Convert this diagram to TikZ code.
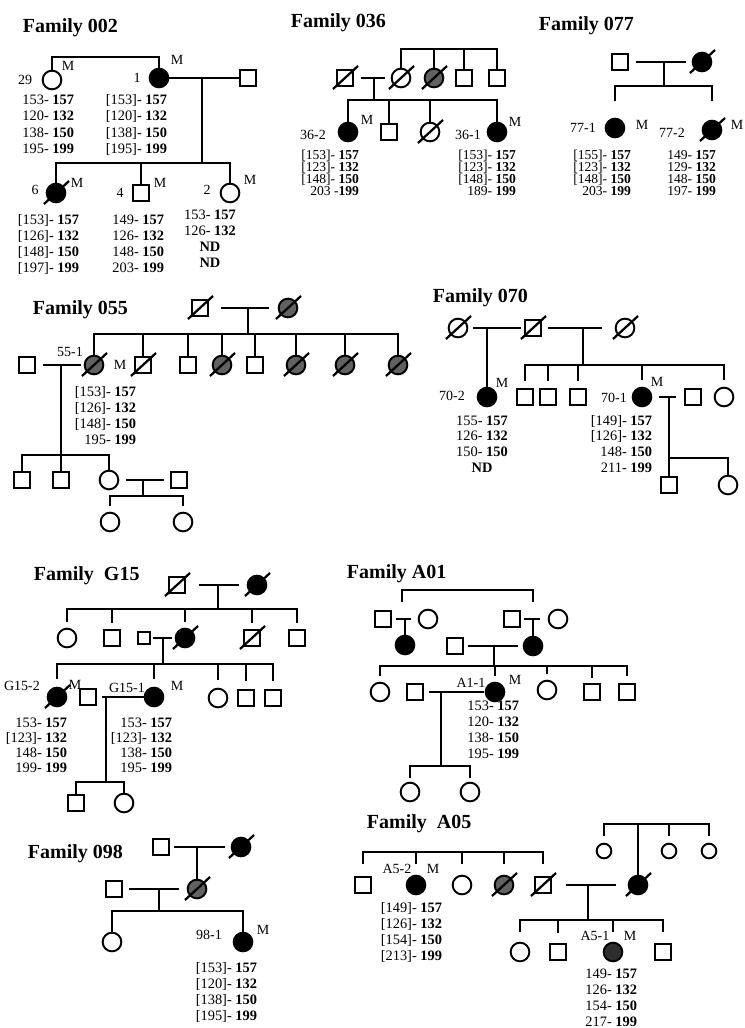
\documentclass[tikz,border=0pt]{standalone}
\usepackage{fontspec}
\setmainfont{Liberation Serif}
\newcommand\gtp[2]{#1- \textbf{#2}}
\newcommand\gblk[8]{%
\node[gt] (#1a) at (#2,#3) {#5};
\node[gt] (#1b) at (#2,{#3+#4}) {#6};
\node[gt] (#1c) at (#2,{#3+2*#4}) {#7};
\node[gt] (#1d) at (#2,{#3+3*#4}) {#8};}
\newcommand\gblks[8]{%
\node[gts] (#1a) at (#2,#3) {#5};
\node[gts] (#1b) at (#2,{#3+#4}) {#6};
\node[gts] (#1c) at (#2,{#3+2*#4}) {#7};
\node[gts] (#1d) at (#2,{#3+3*#4}) {#8};}
\newcommand\gblkc[8]{%
\node[gtc] (#1a) at (#2,#3) {#5};
\node[gtc] (#1b) at (#2,{#3+#4}) {#6};
\node[gtc] (#1c) at (#2,{#3+2*#4}) {#7};
\node[gtc] (#1d) at (#2,{#3+3*#4}) {#8};}
\newcommand\dslash[1]{\draw[line width=1.7pt] ([shift={(-12,11)}]#1.center) -- ([shift={(13,-12)}]#1.center);}
\tikzset{
 sq/.style={draw, rectangle, minimum size=12.3pt, inner sep=0pt},
 ssq/.style={sq, minimum size=9.5pt},
 ci/.style={draw, circle, minimum size=14pt, inner sep=0pt},
 sci/.style={ci, minimum size=11pt},
 af/.style={ci, fill=black},
 sh/.style={ci, fill=black!62},
 sh2/.style={ci, fill=black!82},
 ttl/.style={font=\fontsize{15}{17}\selectfont\bfseries, anchor=base west, inner sep=0pt},
 lab/.style={font=\fontsize{10.5}{12}\selectfont, inner sep=0pt},
 gt/.style={font=\fontsize{10.8}{12}\selectfont, inner sep=0pt, anchor=base east},
 gts/.style={gt, font=\fontsize{10.2}{12}\selectfont},
 gtc/.style={gt, anchor=base},
}
\begin{document}
\begin{tikzpicture}[x=0.75pt,y=-0.75pt,line width=1.45pt]
\useasboundingbox (0,0) rectangle (744,1028);
\fill[white] (0,0) rectangle (744,1028);

% ================= Family 002
\node[ttl] (t002) at (22,32) {Family 002};
\node[ci] (p29) at (52,80) {};
\node[af] (p1) at (159,78) {};
\node[sq] (p1sp) at (248,78) {};
\coordinate (s002) at (105,57);
\draw (p29.north) |- (s002) -| (p1.north);
\draw (p1) -- (p1sp);
\coordinate (m002) at (202,78);
\coordinate (j002) at (202,163);
\draw (m002) -- (j002);
\node[af] (c6) at (56,193) {}; \dslash{c6}
\node[sq] (c4) at (141,193) {};
\node[ci] (c2) at (230,193) {};
\draw (c6.north) |- (j002) -| (c2.north);
\draw (c4.north) -- (c4.north |- j002);
\node[lab] (l29) at (25,80) {29}; \node[lab] (lm29) at (68,66) {M};
\node[lab] (l1) at (137,78) {1}; \node[lab] (lm1) at (177,60) {M};
\node[lab] (l6) at (35,190) {6}; \node[lab] (lm6) at (77,183) {M};
\node[lab] (l4) at (120,193) {4}; \node[lab] (lm4) at (160,183) {M};
\node[lab] (l2) at (207,190) {2}; \node[lab] (lm2) at (250,180) {M};
\gblk{g29}{75}{104}{16.5}{\gtp{153}{157}}{\gtp{120}{132}}{\gtp{138}{150}}{\gtp{195}{199}}
\gblk{g1}{168}{104}{16.5}{\gtp{[153]}{157}}{\gtp{[120]}{132}}{\gtp{[138]}{150}}{\gtp{[195]}{199}}
\gblk{g6}{80}{224}{16}{\gtp{[153]}{157}}{\gtp{[126]}{132}}{\gtp{[148]}{150}}{\gtp{[197]}{199}}
\gblk{g4}{165}{224}{16}{\gtp{149}{157}}{\gtp{126}{132}}{\gtp{148}{150}}{\gtp{203}{199}}
\gblkc{g2}{210}{219}{16}{\gtp{153}{157}}{\gtp{126}{132}}{\textbf{ND}}{\textbf{ND}}

% ================= Family 036
\node[ttl] (t036) at (290,27) {Family 036};
\node[sq] (f1) at (345,78) {}; \dslash{f1}
\node[ci] (f2) at (401,78) {}; \dslash{f2}
\node[sh] (f3) at (434,78) {}; \dslash{f3}
\node[sq] (f4) at (464,78) {};
\node[sq] (f5) at (497,78) {};
\draw[shorten <=5pt, shorten >=4pt] (f1) -- (f2);
\coordinate (s036) at (448,49);
\draw (f2.north) |- (s036) -| (f5.north);
\draw (f3.north) -- (f3.north |- s036);
\draw (f4.north) -- (f4.north |- s036);
\coordinate (m036) at (374,78);
\coordinate (j036) at (374,100);
\draw (m036) -- (j036);
\node[af] (k1) at (348,132) {};
\node[sq] (k2) at (389,132) {};
\node[ci] (k3) at (430,132) {}; \dslash{k3}
\node[af] (k4) at (497,132) {};
\draw (k1.north) |- (j036) -| (k4.north);
\draw (k2.north) -- (k2.north |- j036);
\draw (k3.north) -- (k3.north |- j036);
\node[lab] (l362) at (313,135) {36-2}; \node[lab] (lm362) at (367,120) {M};
\node[lab] (l361) at (468,135) {36-1}; \node[lab] (lm361) at (515,122) {M};
\gblks{g362}{360}{159}{12.2}{\gtp{[153]}{157}}{\gtp{[123]}{132}}{\gtp{[148]}{150}}{203 -\textbf{199}}
\gblks{g361}{517}{159}{12.2}{\gtp{[153]}{157}}{\gtp{[123]}{132}}{\gtp{[148]}{150}}{\gtp{189}{199}}

% ================= Family 077
\node[ttl] (t077) at (538,30) {Family 077};
\node[sq] (g1) at (620,62) {};
\node[af] (g2) at (702,62) {}; \dslash{g2}
\draw[shorten <=5pt, shorten >=4.5pt] (g1) -- (g2);
\coordinate (m077) at (664,62);
\coordinate (j077) at (664,86);
\draw (m077) -- (j077);
\node[af] (h1) at (615,128) {};
\node[af] (h2) at (712,130) {}; \dslash{h2}
\draw ([yshift=12.6pt]h1.north) |- (j077) -| ([yshift=14pt]h2.north);
\node[lab] (l771) at (583,128) {77-1}; \node[lab] (lm771) at (642,125) {M};
\node[lab] (l772) at (672,133) {77-2}; \node[lab] (lm772) at (737,125) {M};
\gblks{g771}{632}{159}{12.2}{\gtp{[155]}{157}}{\gtp{[123]}{132}}{\gtp{[148]}{150}}{\gtp{203}{199}}
\gblks{g772}{717}{159}{12.2}{\gtp{149}{157}}{\gtp{129}{132}}{\gtp{148}{150}}{\gtp{197}{199}}

% ================= Family 055
\node[ttl] (t055) at (32,314) {Family 055};
\node[sq] (a1) at (200,308) {}; \dslash{a1}
\node[sh] (a2) at (288,308) {}; \dslash{a2}
\draw[shorten <=8.9pt, shorten >=6.5pt] (a1) -- (a2);
\coordinate (m055) at (248,308);
\coordinate (j055) at (248,334);
\draw (m055) -- (j055);
\node[sh] (s1) at (94,365) {}; \dslash{s1}
\node[sq] (s2) at (143,365) {}; \dslash{s2}
\node[sq] (s3) at (188,365) {};
\node[sh] (s4) at (222,365) {}; \dslash{s4}
\node[sq] (s5) at (255,365) {};
\node[sh] (s6) at (296,365) {}; \dslash{s6}
\node[sh] (s7) at (345,365) {}; \dslash{s7}
\node[sh] (s8) at (398,365) {}; \dslash{s8}
\draw (s1.north) |- (j055) -| (s8.north);
\foreach \n in {s2,s3,s4,s5,s6,s7} \draw (\n.north) -- (\n.north |- j055);
\node[sq] (sp) at (27,365) {};
\draw[shorten <=5pt, shorten >=2pt] (sp) -- (s1);
\coordinate (m055b) at (61,365);
\coordinate (j055b) at (61,455);
\draw (m055b) -- (j055b);
\node[sq] (u1) at (22,480) {};
\node[sq] (u2) at (61,480) {};
\node[ci] (u3) at (109,480) {};
\draw (u1.north) |- (j055b) -| (u3.north);
\draw (u2.north) -- (u2.north |- j055b);
\node[sq] (v) at (179,480) {};
\draw[shorten <=5pt, shorten >=4.3pt] (u3) -- (v);
\coordinate (m055c) at (143,480);
\coordinate (j055c) at (143,496);
\draw (m055c) -- (j055c);
\node[ci] (w1) at (110,522) {};
\node[ci] (w2) at (183,522) {};
\draw ([yshift=4.3pt]w1.north) |- (j055c) -| ([yshift=4.3pt]w2.north);
\node[lab] (l551) at (70,352) {55-1}; \node[lab] (lm551) at (120,365) {M};
\gblk{g551}{137}{396}{16}{\gtp{[153]}{157}}{\gtp{[126]}{132}}{\gtp{[148]}{150}}{\gtp{195}{199}}

% ================= Family 070
\node[ttl] (t070) at (432,302) {Family 070};
\node[ci] (e1) at (458,328) {}; \dslash{e1}
\node[sq] (e2) at (533,328) {}; \dslash{e2}
\node[ci] (e3) at (625,328) {}; \dslash{e3}
\draw[shorten <=3.6pt, shorten >=2.1pt] (e1) -- (e2);
\draw[shorten <=4.3pt, shorten >=9.6pt] (e2) -- (e3);
\node[af] (r1) at (487,397) {};
\coordinate (m070a) at (487,328);
\draw (m070a) -- (r1.north);
\coordinate (m070b) at (583,328);
\coordinate (j070b) at (583,365);
\draw (m070b) -- (j070b);
\node[sq] (q1) at (525,397) {};
\node[sq] (q2) at (548,397) {};
\node[sq] (q3) at (578,397) {};
\node[af] (r2) at (642,397) {};
\node[ci] (q5) at (724,397) {};
\draw ([yshift=5pt]q1.north) |- (j070b) -| ([yshift=5pt]q5.north);
\foreach \n in {q2,q3,r2} \draw (\n.north |- j070b) -- ([yshift=5pt]\n.north);
\node[sq] (q4) at (693,397) {};
\draw[shorten <=5pt, shorten >=6pt] (r2) -- (q4);
\node[sq] (t1) at (669,485) {};
\node[ci] (t2) at (728,485) {};
\coordinate (m070c) at (669,397);
\coordinate (j070c) at (669,458);
\draw (m070c) -- (t1.north);
\draw (j070c) -| (t2.north);
\node[lab] (l702) at (452,396) {70-2}; \node[lab] (lm702) at (502,383) {M};
\node[lab] (l701) at (614,398) {70-1}; \node[lab] (lm701) at (657,382) {M};
\gblkc{g702}{482}{425}{15.9}{\gtp{155}{157}}{\gtp{126}{132}}{\gtp{150}{150}}{\textbf{ND}}
\gblk{g701}{653}{425}{15.9}{\gtp{[149]}{157}}{\gtp{[126]}{132}}{\gtp{148}{150}}{\gtp{211}{199}}

% ================= Family G15
\node[ttl] (tG15) at (33,580) {Family\ \ G15};
\node[sq] (G1) at (177,585) {}; \dslash{G1}
\node[af] (G2) at (257,585) {}; \dslash{G2}
\draw[shorten <=9.6pt, shorten >=5.8pt] (G1) -- (G2);
\coordinate (mG) at (218,585);
\coordinate (jG) at (218,609);
\draw (mG) -- (jG);
\node[ci] (H1) at (67,638) {};
\node[sq] (H2) at (112,638) {};
\node[af] (H3) at (185,638) {}; \dslash{H3}
\node[sq] (H4) at (252,638) {}; \dslash{H4}
\node[sq] (H5) at (297,638) {};
\draw ([yshift=4.5pt]H1.north) |- (jG) -| ([yshift=4.5pt]H5.north);
\foreach \n in {H2,H3,H4} \draw (\n.north |- jG) -- ([yshift=4.5pt]\n.north);
\node[ssq] (HS) at (144,638) {};
\draw[shorten <=1pt, shorten >=2pt] (HS) -- (H3);
\coordinate (mH) at (163,638);
\coordinate (jH) at (163,664);
\draw (mH) -- (jH);
\node[af] (I1) at (57,697) {}; \dslash{I1}
\node[sq] (Isp) at (88,697) {};
\node[af] (I2) at (154,697) {};
\node[ci] (I3) at (218,698) {};
\node[sq] (I4) at (246,698) {};
\node[sq] (I5) at (273,698) {};
\draw ([yshift=6pt]I1.north) |- (jH) -| ([yshift=6pt]I5.north);
\foreach \n in {I2,I3,I4} \draw (\n.north |- jH) -- ([yshift=6pt]\n.north);
\draw[shorten <=3.6pt] (Isp) -- (I2);
\coordinate (mI) at (106,697);
\coordinate (jI) at (106,782);
\draw (mI) -- (jI);
\node[sq] (L1) at (76,803) {};
\node[ci] (L2) at (124,803) {};
\draw (L1.north) |- (jI) -| (L2.north);
\node[lab] (lG152) at (22,686) {G15-2}; \node[lab] (lmG152) at (75,685) {M};
\node[lab] (lG151) at (127,688) {G15-1}; \node[lab] (lmG151) at (177,686) {M};
\gblk{gG152}{68}{727}{15}{\gtp{153}{157}}{\gtp{[123]}{132}}{\gtp{148}{150}}{\gtp{199}{199}}
\gblk{gG151}{173}{727}{15}{\gtp{153}{157}}{\gtp{[123]}{132}}{\gtp{138}{150}}{\gtp{195}{199}}

% ================= Family A01
\node[ttl] (tA01) at (346,578) {Family A01};
\coordinate (kA1) at (402,602);
\coordinate (kA2) at (533,602);
\coordinate (kA0) at (467,590);
\draw (kA1) |- (kA0) -| (kA2);
\node[sq] (B1) at (383,619) {};
\node[ci] (B2) at (428,619) {};
\draw[shorten <=2.8pt, shorten >=5pt] (B1) -- (B2);
\node[af] (B3) at (405,645) {};
\coordinate (mB1) at (405,619);
\draw (mB1) -- (B3.north);
\node[sq] (B4) at (512,619) {};
\node[ci] (B5) at (558,619) {};
\draw[shorten <=2.1pt, shorten >=5.8pt] (B4) -- (B5);
\node[af] (B6) at (533,646) {};
\coordinate (mB2) at (533,619);
\draw (mB2) -- (B6.north);
\node[sq] (B7) at (455,646) {};
\draw[shorten <=2.9pt, shorten >=3.6pt] (B7) -- (B6);
\coordinate (mB3) at (494,646);
\coordinate (jB3) at (494,666);
\draw (mB3) -- (jB3);
\node[ci] (C1) at (380,692) {};
\node[sq] (C2) at (415,692) {};
\node[af] (C3) at (495,692) {};
\node[ci] (C4) at (547,690) {};
\node[sq] (C5) at (592,692) {};
\node[sq] (C6) at (627,692) {};
\draw ([yshift=4.5pt]C1.north) |- (jB3) -| ([yshift=5pt]C6.north);
\foreach \n in {C3,C4,C5} \draw (\n.north |- jB3) -- ([yshift=4pt]\n.north);
\draw[shorten <=3.6pt, shorten >=0.5pt] (C2) -- (C3);
\coordinate (mC) at (441,692);
\coordinate (jC) at (441,766);
\draw (mC) -- (jC);
\node[ci] (D1) at (410,792) {};
\node[ci] (D2) at (470,792) {};
\draw ([yshift=2.8pt]D1.north) |- (jC) -| ([yshift=2.8pt]D2.north);
\node[lab] (lA11) at (471,683) {A1-1}; \node[lab] (lmA11) at (515,680) {M};
\gblk{gA11}{520}{710}{16}{\gtp{153}{157}}{\gtp{120}{132}}{\gtp{138}{150}}{\gtp{195}{199}}

% ================= Family 098
\node[ttl] (t098) at (27,858) {Family 098};
\node[sq] (P1) at (161,847) {};
\node[af] (P2) at (241,847) {}; \dslash{P2}
\draw[shorten <=3pt, shorten >=4pt] (P1) -- (P2);
\node[sh] (P3) at (197,889) {}; \dslash{P3}
\coordinate (mP) at (197,847);
\draw (mP) -- (P3.north);
\node[sq] (P4) at (114,889) {};
\draw[shorten <=4.5pt, shorten >=5.5pt] (P4) -- (P3);
\coordinate (mP2) at (159,889);
\coordinate (jP2) at (159,911);
\draw (mP2) -- (jP2);
\node[ci] (Q1) at (112,942) {};
\node[af] (Q2) at (243,942) {};
\draw (Q1.north) |- (jP2) -| (Q2.north);
\node[lab] (l981) at (209,935) {98-1}; \node[lab] (lm981) at (263,930) {M};
\gblk{g981}{258}{972}{16.3}{\gtp{[153]}{157}}{\gtp{[120]}{132}}{\gtp{[138]}{150}}{\gtp{[195]}{199}}

% ================= Family A05
\node[ttl] (tA05) at (366,828) {Family\ \ A05};
\node[sq] (R1) at (363,885) {};
\node[af] (R2) at (416,885) {};
\node[ci] (R3) at (462,885) {};
\node[sh] (R4) at (504,885) {}; \dslash{R4}
\node[sq] (R5) at (543,885) {}; \dslash{R5}
\coordinate (jR) at (450,852);
\draw ([yshift=8.8pt]R1.north) |- (jR) -| ([yshift=8.8pt]R5.north);
\foreach \n in {R2,R3,R4} \draw (\n.north |- jR) -- ([yshift=8pt]\n.north);
\coordinate (jS) at (656,824);
\node[sci] (S1) at (604,851) {};
\node[af] (S2) at (638,885) {}; \dslash{S2}
\node[sci] (S3) at (669,851) {};
\node[sci] (S4) at (709,851) {};
\draw ([yshift=5pt]S1.north) |- (jS) -| ([yshift=5pt]S4.north);
\draw (S3.north |- jS) -- ([yshift=5pt]S3.north);
\draw (S2.north |- jS) -- (S2.north);
\draw[shorten <=10.3pt, shorten >=8.8pt] (R5) -- (S2);
\coordinate (mR) at (588,885);
\coordinate (jT) at (588,920);
\draw (mR) -- (jT);
\node[ci] (T1) at (520,952) {};
\node[sq] (T2) at (558,952) {};
\node[sh2] (T3) at (613,952) {};
\node[sq] (T4) at (663,952) {};
\draw ([yshift=7.3pt]T1.north) |- (jT) -| ([yshift=8pt]T4.north);
\foreach \n in {T2,T3} \draw (\n.north |- jT) -- ([yshift=7.5pt]\n.north);
\node[lab] (lA52) at (397,869) {A5-2}; \node[lab] (lmA52) at (433,869) {M};
\node[lab] (lA51) at (595,936) {A5-1}; \node[lab] (lmA51) at (630,936) {M};
\gblk{gA52}{443}{912}{16.3}{\gtp{[149]}{157}}{\gtp{[126]}{132}}{\gtp{[154]}{150}}{\gtp{[213]}{199}}
\gblk{gA51}{638}{978}{16.3}{\gtp{149}{157}}{\gtp{126}{132}}{\gtp{154}{150}}{\gtp{217}{199}}
\end{tikzpicture}
\end{document}
